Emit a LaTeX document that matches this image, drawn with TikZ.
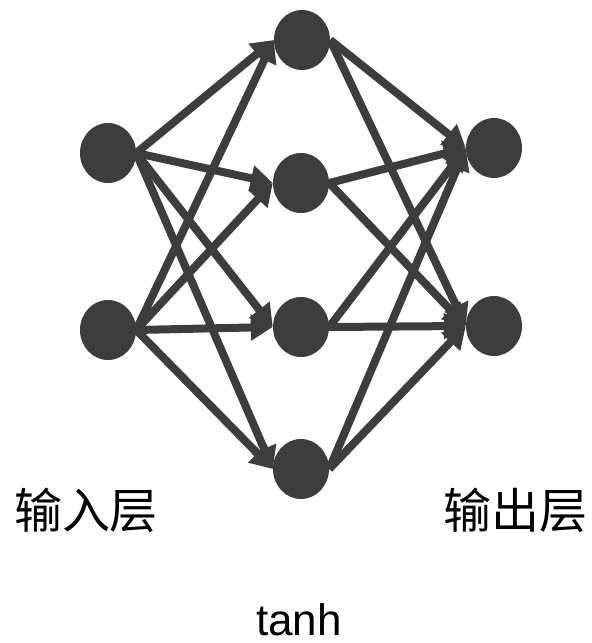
\documentclass[tikz,border=0pt]{standalone}
\usepackage{fontspec}
\setmainfont{Liberation Sans}
\newfontfamily\cjk{Noto Sans CJK SC}
\usepackage{xcolor}
\usetikzlibrary{arrows.meta,shapes.geometric}

\definecolor{netgray}{RGB}{61,61,61}

\begin{document}
\begin{tikzpicture}[
  x=1pt, y=-1pt,
  neuron/.style={ellipse, fill=netgray, draw=none, inner sep=0pt, minimum width=56pt, minimum height=60pt},
  arrow/.style={-{Triangle[length=22pt,width=25pt]}, line width=8pt, draw=netgray},
  layername/.style={anchor=base, inner sep=0pt, font=\cjk\fontsize{48}{52}\selectfont},
  actname/.style={anchor=base, inner sep=0pt, font=\fontsize{44}{50}\selectfont}
]
\useasboundingbox (0,0) rectangle (592,643);

% input layer
\node[neuron] (in1) at (108,153) {};
\node[neuron] (in2) at (108,330) {};

% hidden layer
\node[neuron] (hid1) at (302,40) {};
\node[neuron] (hid2) at (301,183) {};
\node[neuron] (hid3) at (301,327) {};
\node[neuron] (hid4) at (301,469) {};

% output layer
\node[neuron] (out1) at (494,148) {};
\node[neuron] (out2) at (494,326) {};

\draw[arrow] (in1.east) -- (hid1.west);
\draw[arrow] (in1.east) -- (hid2.west);
\draw[arrow] (in1.east) -- (hid3.west);
\draw[arrow] (in1.east) -- (hid4.west);
\draw[arrow] (in2.east) -- (hid1.west);
\draw[arrow] (in2.east) -- (hid2.west);
\draw[arrow] (in2.east) -- (hid3.west);
\draw[arrow] (in2.east) -- (hid4.west);

\draw[arrow] (hid1.east) -- (out1.west);
\draw[arrow] (hid1.east) -- (out2.west);
\draw[arrow] (hid2.east) -- (out1.west);
\draw[arrow] (hid2.east) -- (out2.west);
\draw[arrow] (hid3.east) -- (out1.west);
\draw[arrow] (hid3.east) -- (out2.west);
\draw[arrow] (hid4.east) -- (out1.west);
\draw[arrow] (hid4.east) -- (out2.west);

\node[layername] (inlabel) at (86,528) {输入层};
\node[layername] (outlabel) at (515,528) {输出层};
\node[actname] (tanhlabel) at (299,635) {tanh};
\end{tikzpicture}
\end{document}
